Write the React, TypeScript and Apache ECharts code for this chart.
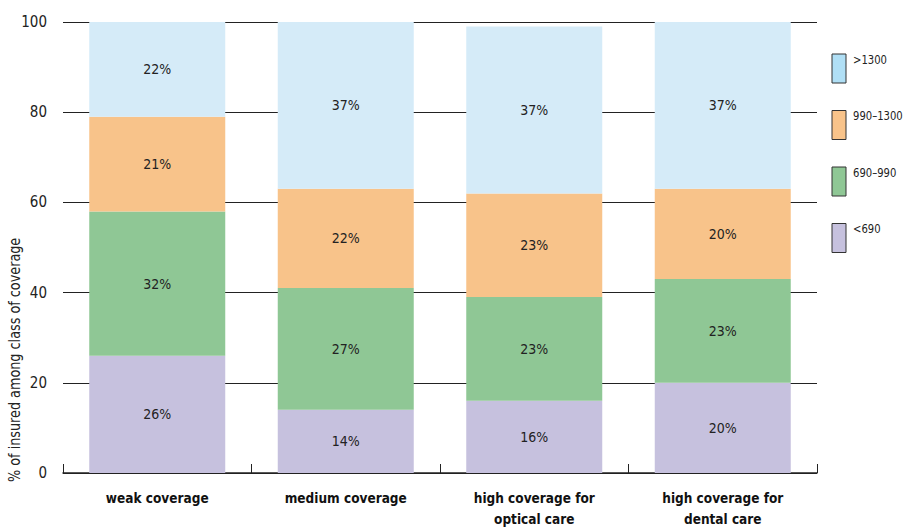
import React, { useEffect, useRef } from "react";
import * as echarts from "echarts";

const categories = [
  "weak coverage",
  "medium coverage",
  "high coverage for\noptical care",
  "high coverage for\ndental care",
];

const bandNames = ["<690", "690–990", "990–1300", ">1300"];
const under690 = [26, 14, 16, 20];
const from690to990 = [32, 27, 23, 23];
const from990to1300 = [21, 22, 23, 20];
const over1300 = [22, 37, 37, 37];
const bandValues = [under690, from690to990, from990to1300, over1300];

const barColors = ["#c6c1de", "#8fc795", "#f8c38a", "#d5ebf8"];
const legendColors = ["#c6c1de", "#8fc795", "#f8c38a", "#b0dff5"];

const yTicks = [0, 20, 40, 60, 80, 100];
const yAxisTitle = "% of insured among class of coverage";

const FONT = '"DejaVu Sans Condensed", "Liberation Sans", sans-serif';

export default function App() {
  const ref = useRef<HTMLDivElement>(null);

  useEffect(() => {
    if (!ref.current) return;
    const chart = echarts.init(ref.current, undefined, { renderer: "svg" });

    const series = bandNames.map((name, i) => ({
      name,
      type: "bar",
      stack: "total",
      data: bandValues[i],
      barWidth: 136,
      clip: true,
      itemStyle: { color: barColors[i] },
      label: {
        show: true,
        position: "inside",
        formatter: "{c}%",
        color: "#222",
        fontSize: 14,
        fontFamily: FONT,
      },
    }));

    // Legend, drawn top-down from the highest band
    const legendGraphics: any[] = [];
    const order = [3, 2, 1, 0];
    order.forEach((idx, k) => {
      const top = 54 + k * 56.5;
      legendGraphics.push({
        type: "rect",
        shape: { x: 832, y: top, width: 14, height: 29 },
        style: { fill: legendColors[idx], stroke: "#333", lineWidth: 1 },
      });
      legendGraphics.push({
        type: "text",
        x: 853,
        y: top - 1,
        scaleX: 0.86,
        style: {
          text: bandNames[idx],
          fill: "#222",
          fontSize: 13,
          fontFamily: FONT,
          textAlign: "left",
          textVerticalAlign: "top",
        },
      });
    });

    chart.setOption({
      animation: false,
      backgroundColor: "#fff",
      textStyle: { fontFamily: FONT },
      grid: {
        left: 63,
        right: 90,
        top: 22,
        bottom: 54,
        containLabel: false,
        outerBoundsMode: "none",
      },
      xAxis: {
        type: "category",
        data: categories,
        axisLine: { show: true, lineStyle: { color: "#222", width: 1.5 } },
        axisTick: {
          show: true,
          inside: true,
          length: 9,
          alignWithLabel: false,
          lineStyle: { color: "#222", width: 1 },
        },
        axisLabel: {
          color: "#111",
          fontSize: 13.5,
          fontWeight: "bold",
          fontFamily: FONT,
          margin: 14,
          lineHeight: 21,
          interval: 0,
        },
      },
      yAxis: {
        type: "value",
        min: yTicks[0],
        max: yTicks[yTicks.length - 1],
        interval: 20,
        axisLine: { show: false },
        axisTick: { show: false },
        axisLabel: {
          color: "#222",
          fontSize: 15,
          fontFamily: FONT,
          margin: 16,
        },
        splitLine: { show: true, lineStyle: { color: "#222", width: 1 } },
      },
      graphic: [
        {
          type: "text",
          x: 14,
          y: 482,
          rotation: Math.PI / 2,
          scaleX: 0.95,
          style: {
            text: yAxisTitle,
            fill: "#222",
            fontSize: 15,
            fontFamily: FONT,
            textAlign: "left",
            textVerticalAlign: "middle",
          },
        },
        ...legendGraphics,
      ],
      series,
    });

    return () => chart.dispose();
  }, []);

  return <div ref={ref} style={{ width: 907, height: 527, position: "absolute", left: 0, top: 0 }} />;
}
